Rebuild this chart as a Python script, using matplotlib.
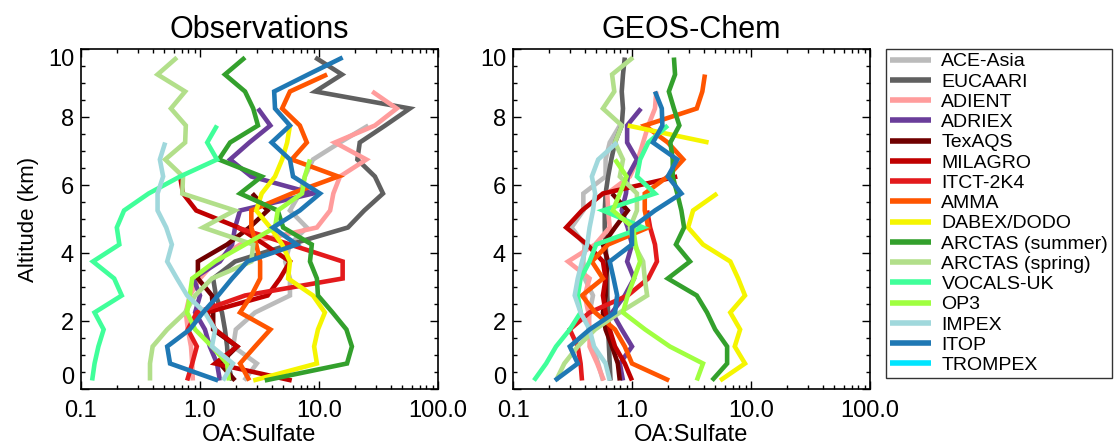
import numpy as np
import matplotlib
matplotlib.use("Agg")
import matplotlib.pyplot as plt
from matplotlib.ticker import LogLocator, NullFormatter, MultipleLocator

nan = np.nan

# altitude bin centres (km)
alt = [0.25, 0.75, 1.25, 1.75, 2.25, 2.75, 3.25, 3.75, 4.25, 4.75,
       5.25, 5.75, 6.25, 6.75, 7.25, 7.75, 8.25, 8.75, 9.25, 9.75]

names = ["ACE-Asia", "EUCAARI", "ADIENT", "ADRIEX", "TexAQS", "MILAGRO",
         "ITCT-2K4", "AMMA", "DABEX/DODO", "ARCTAS (summer)", "ARCTAS (spring)",
         "VOCALS-UK", "OP3", "IMPEX", "ITOP", "TROMPEX"]
colors = ["#bbbbbb", "#606060", "#ff9c9c", "#6a3d9a", "#700000", "#c00000",
          "#e31a1c", "#ff5500", "#f5f500", "#33a02c", "#b2df8a",
          "#40ff9a", "#a0ff40", "#a0d8dc", "#1f78b4", "#00e5ff"]

# OA:sulfate ratio profiles, observations
obs_ace_asia = [2.35, 3.0, 1.9, 2.0, 2.9, 5.7, 5.7, 5.2, 5.7, 7.9, 5.7, 6.9, 7.6, 8.9, 15, 26]
obs_eucaari = [1.86, 1.72, 1.69, 1.62, 1.53, 1.36, 1.29, 1.97, 5.7, 17.5, 24, 34.5, 29.5, 21, 22, 36, 58, 9.3, 15.6, 9.3]
obs_adient = [0.87, 0.86, 0.84, 0.79, 0.76, 0.82, 1.0, 1.34, 2.17, 9.6, 12.4, 13.2, 15, 25, 13.6, 29.5, 45, 28]
obs_adriex = [1.47, 1.39, 1.21, 1.1, 0.91, 1.0, 0.88, 1.47, 1.86, 1.97, 2.17, 8.9, 2.7, 1.79, 2.6, 3.9, 3.07]
obs_texaqs = [1.97, 1.47, 2.05, 1.29, 1.29, 1.26, 0.96, 0.96, 1.69, 2.6, 3.7, 2.75]
obs_milagro = [5.9, 1.34, 2.05, 1.34, 1.14, 3.7, 4.7, 5.7, 3.5, 2.1, 0.93, 0.72, 0.68]
obs_itct = [0.78, 0.86, 0.94, 0.79, 0.94, 2.39, 15.8, 15.8, 5.7, 2.05]
obs_amma = [2.6, 2.17, 2.9, 3.9, 2.17, 2.7, 3.2, 3.2, 2.97, 2.7, 2.7, 5.9, 14.5, 5.9, 7.9, 6.9, 4.9, 5.7, 11.7]
obs_dabex = [2.8, 9.6, 9.1, 9.8, 11.2, 8.9, 5.5, 5.7, 4.9, 3.9, 2.97, 3.3, 4.27, 4.9, 5.4, 5.7]
obs_arctas_sum = [3.5, 17.2, 18.9, 17, 13, 9.8, 9.6, 8.4, 8.7, 5.0, 4.5, 2.17, 3.3, 1.44, 1.79, 3.07, 2.8, 2.39, 1.62, 2.39]
obs_arctas_spr = [0.38, 0.38, 0.40, 0.53, 0.75, 0.91, 1.26, 2.7, 2.8, 1.06, 1.96, 0.71, 0.72, 0.51, 0.75, 0.76, 0.57, 0.75, 0.44, 0.64]
obs_vocals = [0.124, 0.13, 0.14, 0.155, 0.13, 0.22, 0.19, 0.126, 0.21, 0.2, 0.23, 0.37, 0.68, 1.39, 1.15, 1.39]
obs_op3 = [1.75, 1.69, 1.26, 0.91, 0.78, 0.82, 0.86, 1.34, 2.39, 4.27, 4.5, 7.2, 7.6, 8.4]
obs_impex = [1.56, 1.89, 1.26, 1.34, 1.1, 0.78, 0.64, 0.53, 0.58, 0.52, 0.44, 0.44, 0.49, 0.46, 0.51]
obs_itop = [1.42, 0.56, 0.53, 0.82, 1.06, 1.42, 1.86, 2.5, 6.5, 4.1, 6.9, 10.2, 6.05, 5.7, 4.0, 5.7, 4.27, 4.2, 8.1, 15.8]
obs_trompex = []

# GEOS-Chem
mod_ace_asia = [0.57, 0.52, 0.47, 0.43, 0.44, 0.47, 0.4, 0.39, 0.4, 0.31, 0.39, 0.39, 0.6, 0.6, 0.65, 0.79]
mod_eucaari = [0.66, 0.65, 0.64, 0.63, 0.63, 0.62, 0.62, 0.61, 0.6, 0.59, 0.59, 0.6, 0.63, 0.67, 0.72, 0.82, 0.84, 0.82, 0.84, 0.87]
mod_adient = [0.58, 0.51, 0.44, 0.44, 0.43, 0.4, 0.44, 0.29, 0.49, 0.65, 0.63, 0.62, 0.96, 1.12, 1.24, 1.37, 1.56, 1.6]
mod_adriex = [0.84, 0.79, 1.0, 0.82, 0.68, 0.87, 1.04, 0.91, 1.0, 0.92, 0.82, 0.89, 0.92, 1.1, 0.91, 0.91, 1.19]
mod_texaqs = [0.79, 0.76, 0.68, 0.6, 0.57, 0.6, 0.6, 0.63, 0.57, 0.72, 0.92, 0.68]
mod_milagro = [1.0, 0.87, 0.72, 0.65, 0.6, 0.57, 0.6, 0.57, 0.42, 0.28, 0.38, 0.57, 2.4]
mod_itct = [0.38, 0.37, 0.35, 0.3, 0.44, 0.92, 1.37, 1.62, 1.56, 1.42, 1.34]
mod_amma = [2.05, 1.0, 0.87, 0.72, 0.49, 0.38, 0.57, 0.46, 0.63, 1.37, 1.28, 1.28, 2.0, 2.7, 2.0, 1.28, 3.5, 3.9, 4.1]
mod_dabex = [5.5, 8.9, 7.3, 8.1, 6.7, 8.9, 7.8, 6.7, 3.95, 2.96, 3.26, 5.2, nan, nan, 4.4, 0.92]
mod_arctas_sum = [4.7, 6.3, 6.3, 5.0, 4.27, 3.5, 2.0, 3.07, 2.34, 2.74, 2.6, 2.4, 2.2, 2.2, 2.1, 2.5, 2.25, 2.04, 2.3, 2.25]
mod_arctas_spr = [0.23, 0.27, 0.35, 0.49, 0.79, 1.34, 1.28, 1.24, 1.04, 0.96, 1.1, 1.1, 0.79, 0.84, 0.72, 0.82, 0.57, 0.71, 0.68, 1.02]
mod_vocals = [0.15, 0.19, 0.23, 0.3, 0.37, 0.35, 0.37, 0.44, 0.5, 1.24, 0.57, 1.56, 1.1, 1.17, 1.37, 2.0]
mod_op3 = [3.5, 3.95, 2.08, 1.29, 0.84, 0.92, 1.04, 1.17, 1.07, 1.02, 0.69, 0.79, 0.9, 0.72]
mod_impex = [0.65, 0.6, 0.48, 0.44, 0.37, 0.33, 0.35, 0.38, 0.42, 0.44, 0.47, 0.49, 0.46, 0.52, 0.75]
mod_itop = [0.225, 0.35, 0.3, 0.44, 0.72, 0.75, 0.7, 0.65, 1.0, 1.0, 1.56, 2.6, 2.0, 2.4, 1.5, 1.8, 1.78, 1.56]
mod_trompex = []

obs = [obs_ace_asia, obs_eucaari, obs_adient, obs_adriex, obs_texaqs, obs_milagro,
       obs_itct, obs_amma, obs_dabex, obs_arctas_sum, obs_arctas_spr, obs_vocals,
       obs_op3, obs_impex, obs_itop, obs_trompex]
mod = [mod_ace_asia, mod_eucaari, mod_adient, mod_adriex, mod_texaqs, mod_milagro,
       mod_itct, mod_amma, mod_dabex, mod_arctas_sum, mod_arctas_spr, mod_vocals,
       mod_op3, mod_impex, mod_itop, mod_trompex]

yticks = [0, 2, 4, 6, 8, 10]


def pad(v):
    # profiles stop where the campaign has no data
    return list(v) + [nan] * (len(alt) - len(v))


plt.rcParams['font.family'] = ['Liberation Sans', 'DejaVu Sans']

W, H = 1115, 448
fig = plt.figure(figsize=(W / 100, H / 100), dpi=100)
ax1 = fig.add_axes([81 / W, 1 - 389 / H, 357 / W, 340 / H])
ax2 = fig.add_axes([513 / W, 1 - 389 / H, 357 / W, 340 / H])

handles = []
for ax, data, title in [(ax1, obs, "Observations"), (ax2, mod, "GEOS-Chem")]:
    for name, c, v in zip(names, colors, data):
        ln, = ax.plot(pad(v), alt, color=c, lw=3.3, label=name,
                      solid_joinstyle="miter", solid_capstyle="butt")
        if ax is ax1:
            handles.append(ln)
    ax.set_xscale("log")
    ax.set_xlim(0.1, 100)
    ax.set_ylim(0, 10)
    ax.set_xticks([0.1, 1, 10, 100])
    ax.set_xticklabels(["0.1", "1.0", "10.0", "100.0"])
    ax.xaxis.set_minor_locator(LogLocator(base=10, subs=np.arange(2, 10)))
    ax.xaxis.set_minor_formatter(NullFormatter())
    ax.set_yticks(yticks)
    ax.set_yticklabels([str(t) for t in yticks])
    ax.yaxis.set_minor_locator(MultipleLocator(0.5))
    ax.tick_params(which="both", direction="in", top=True, right=True,
                   labelsize=17, width=1)
    ax.tick_params(which="major", length=6)
    ax.tick_params(which="minor", length=3)
    ax.tick_params(axis="x", pad=8)
    ax.tick_params(axis="y", pad=5)
    ax.set_xlabel("OA:Sulfate", fontsize=17, labelpad=1)
    ax.set_title(title, fontsize=22, pad=8)
    for s in ax.spines.values():
        s.set_linewidth(1.2)
    # end labels sit inside the axis range, as in the original
    ticks = ax.yaxis.get_major_ticks()
    ticks[0].label1.set_va("bottom")
    ticks[-1].label1.set_va("top")

ax1.set_ylabel("Altitude (km)", fontsize=16, labelpad=6)

leg = fig.legend(handles=handles, loc="upper left",
                 bbox_to_anchor=(886 / W, 1 - 49 / H), borderaxespad=0,
                 fontsize=14, frameon=True, fancybox=False, edgecolor="black",
                 borderpad=0.2, labelspacing=0.135, handlelength=2.1,
                 handletextpad=0.55)
leg.get_frame().set_linewidth(1)
for ln in leg.get_lines():
    ln.set_linewidth(4)

fig.savefig("out.png", dpi=100)
